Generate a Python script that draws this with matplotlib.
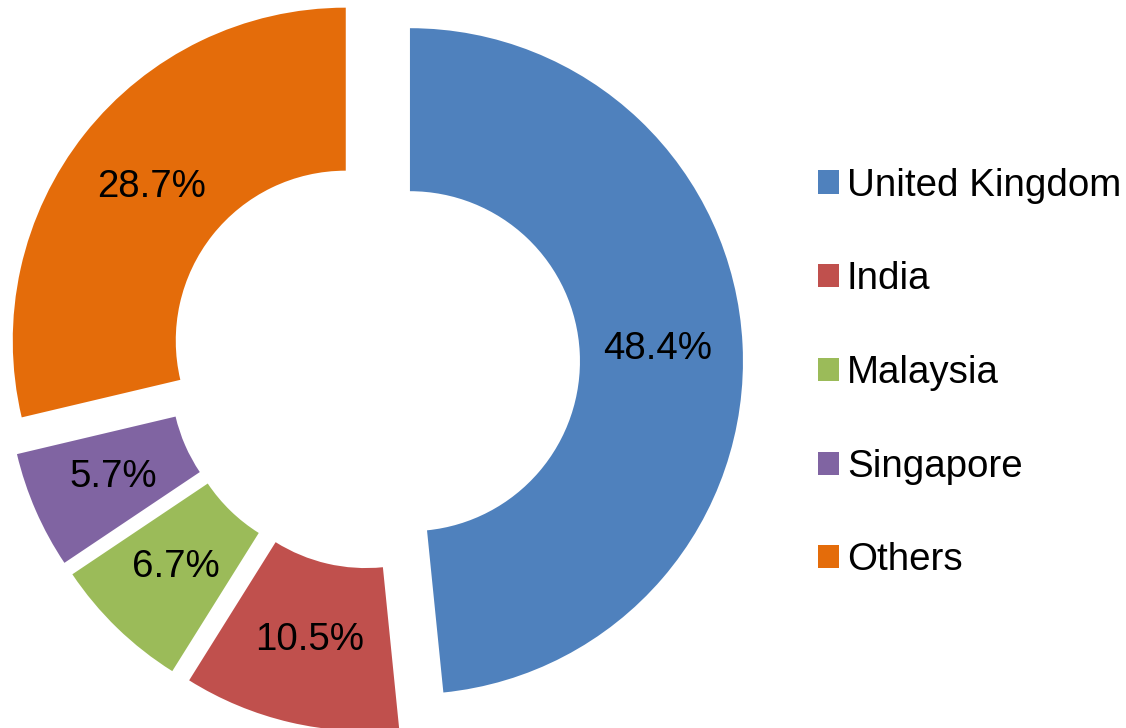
import matplotlib.pyplot as plt

plt.rcParams['font.family'] = ['Liberation Sans', 'DejaVu Sans']

# Share of total by country
countries = ["United Kingdom", "India", "Malaysia", "Singapore", "Others"]
shares = [48.4, 10.5, 6.7, 5.7, 28.7]
colors = ["#4f81bd", "#c0504d", "#9bbb59", "#8064a2", "#e46c0a"]

fig = plt.figure(figsize=(11.26, 7.28), dpi=100)
ax = fig.add_axes([0, 0, 1, 1])

# axes in pixel units, so explode/radius are in pixels
wedges, texts, autotexts = ax.pie(
    shares,
    colors=colors,
    center=(374, 365),
    radius=333,
    startangle=90,
    counterclock=False,
    explode=[36] * len(shares),
    autopct="%.1f%%",
    pctdistance=0.745,
    wedgeprops=dict(width=163, linewidth=0),
    textprops=dict(fontsize=27.7, color="black"),
    frame=True,
)
ax.set_xlim(0, 1126)
ax.set_ylim(0, 728)
ax.set_aspect("equal")
ax.axis("off")

ax.legend(
    wedges, countries,
    loc="center left",
    bbox_to_anchor=(818 / 1126, 0.5 - 9 / 728),
    frameon=False,
    fontsize=27.7,
    handlelength=0.55,
    handleheight=0.55,
    handletextpad=0.2,
    labelspacing=1.5,
    borderaxespad=0,
    borderpad=0,
)

plt.savefig("out.png")
